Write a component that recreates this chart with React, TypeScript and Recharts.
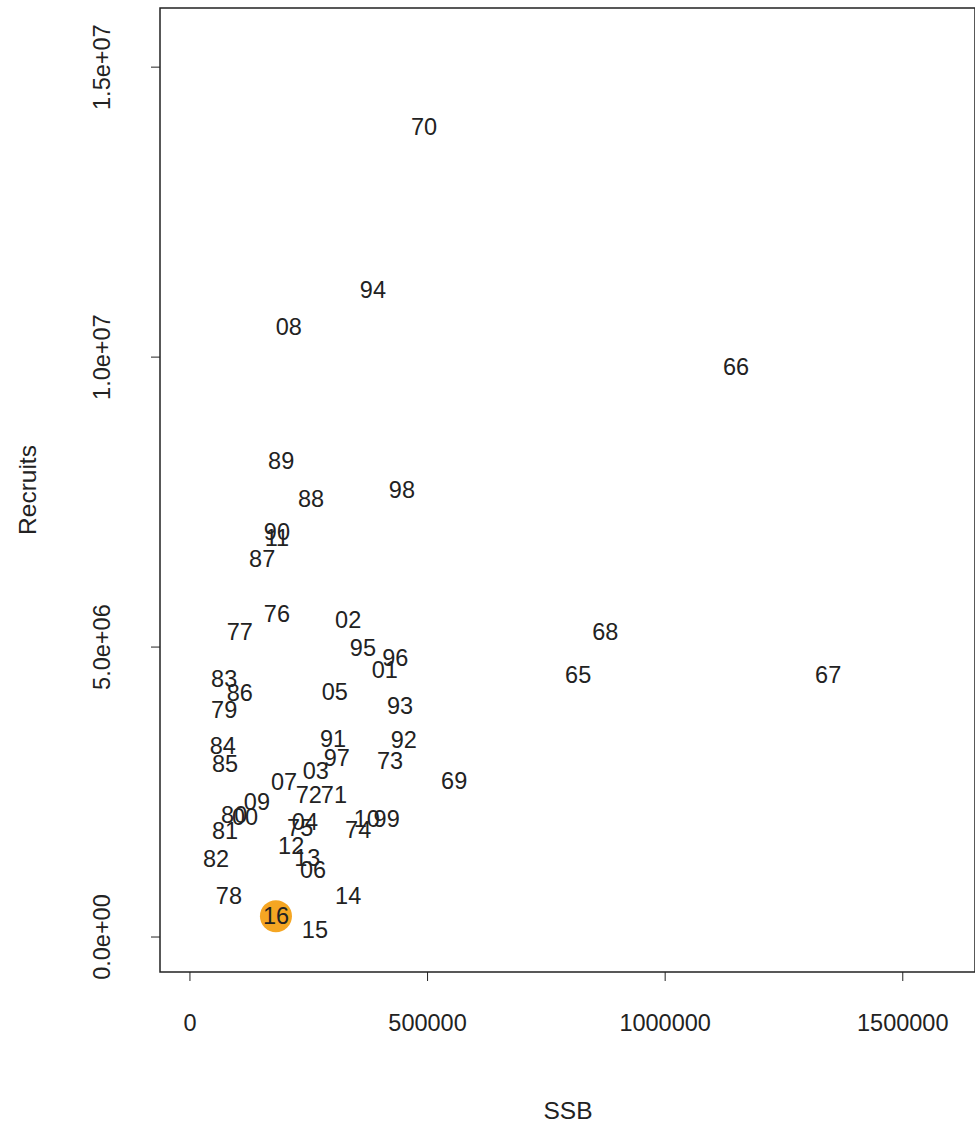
import { ScatterChart, Scatter, XAxis, YAxis, ReferenceArea } from 'recharts';

const years = ['70','94','08','66','89','88','98','90','11','87','76','77','02','68','95','96','01','65','67','83','86','05','79','93','91','92','84','97','73','85','03','69','07','72','71','09','80','00','04','10','99','75','12','13','06','81','74','82','78','14','16','15'];
const ssb = [492600,385000,208000,1149000,192000,255000,446000,183000,183000,152000,183000,105000,333000,874000,364000,432000,410000,817000,1343000,72000,105000,305000,72000,442000,301000,450000,69000,309000,421000,74000,265000,556000,198000,250000,303000,141000,93000,116000,242000,372000,414000,232000,213000,247000,259000,74000,354000,55000,82000,333000,181000,263000];
const recruits = [13.97e6,11.15e6,10.52e6,9.83e6,8.21e6,7.55e6,7.71e6,6.98e6,6.88e6,6.52e6,5.57e6,5.26e6,5.47e6,5.26e6,4.98e6,4.81e6,4.60e6,4.52e6,4.52e6,4.45e6,4.21e6,4.22e6,3.91e6,3.98e6,3.41e6,3.40e6,3.29e6,3.09e6,3.03e6,2.98e6,2.86e6,2.69e6,2.67e6,2.45e6,2.45e6,2.33e6,2.10e6,2.07e6,1.98e6,2.03e6,2.03e6,1.88e6,1.57e6,1.36e6,1.16e6,1.83e6,1.84e6,1.34e6,0.71e6,0.71e6,0.36e6,0.12e6];
const highlight = '16';
const xTicks = [0, 500000, 1000000, 1500000];
const yTicks = [0, 5e6, 1e7, 1.5e7];
const yTickLabels = ['0.0e+00', '5.0e+06', '1.0e+07', '1.5e+07'];

const data = years.map((y, i) => ({ label: y, x: ssb[i], y: recruits[i] }));
const font = 'Liberation Sans, Arial, sans-serif';

const Label = (p: any) => (
  <g>
    {p.payload.label === highlight && <circle cx={p.cx} cy={p.cy} r={16} fill="#F5A623" />}
    <text x={p.cx} y={p.cy} textAnchor="middle" dominantBaseline="central" fontSize={23.5} fontFamily={font} fill="#222">
      {p.payload.label}
    </text>
  </g>
);

const XTick = (p: any) => (
  <g>
    <line x1={p.x} x2={p.x} y1={972} y2={981} stroke="#222" />
    <text x={p.x} y={1031} textAnchor="middle" fontSize={23.5} fontFamily={font} fill="#222">{p.payload.value}</text>
  </g>
);

const YTick = (p: any) => (
  <g>
    <line x1={151} x2={160} y1={p.y} y2={p.y} stroke="#222" />
    <text x={110} y={p.y} textAnchor="middle" fontSize={23.5} fontFamily={font} fill="#222" transform={`rotate(-90 110 ${p.y})`}>
      {yTickLabels[yTicks.indexOf(p.payload.value)]}
    </text>
  </g>
);

export default function App() {
  return (
    <div style={{ position: 'absolute', left: 0, top: 0, width: 975, height: 1126, background: '#fff' }}>
      <ScatterChart width={975} height={1126} margin={{ top: 8, right: 0, bottom: 0, left: 0 }}>
        <XAxis type="number" dataKey="x" domain={[-63000, 1652000]} ticks={xTicks} height={154} axisLine={false} tickLine={false} tick={<XTick />} allowDataOverflow />
        <YAxis type="number" dataKey="y" domain={[-0.603e6, 16.02e6]} ticks={yTicks} width={160} axisLine={false} tickLine={false} tick={<YTick />} allowDataOverflow />
        <ReferenceArea x1={-63000} x2={1652000} y1={-0.603e6} y2={16.02e6} fill="none" stroke="#222" strokeWidth={1.5} ifOverflow="visible" />
        <Scatter data={data} shape={<Label />} isAnimationActive={false} />
        <text x={568} y={1119} textAnchor="middle" fontSize={24.5} fontFamily={font} fill="#222">SSB</text>
        <text x={36} y={490} textAnchor="middle" fontSize={24.5} fontFamily={font} fill="#222" transform="rotate(-90 36 490)">Recruits</text>
      </ScatterChart>
    </div>
  );
}
